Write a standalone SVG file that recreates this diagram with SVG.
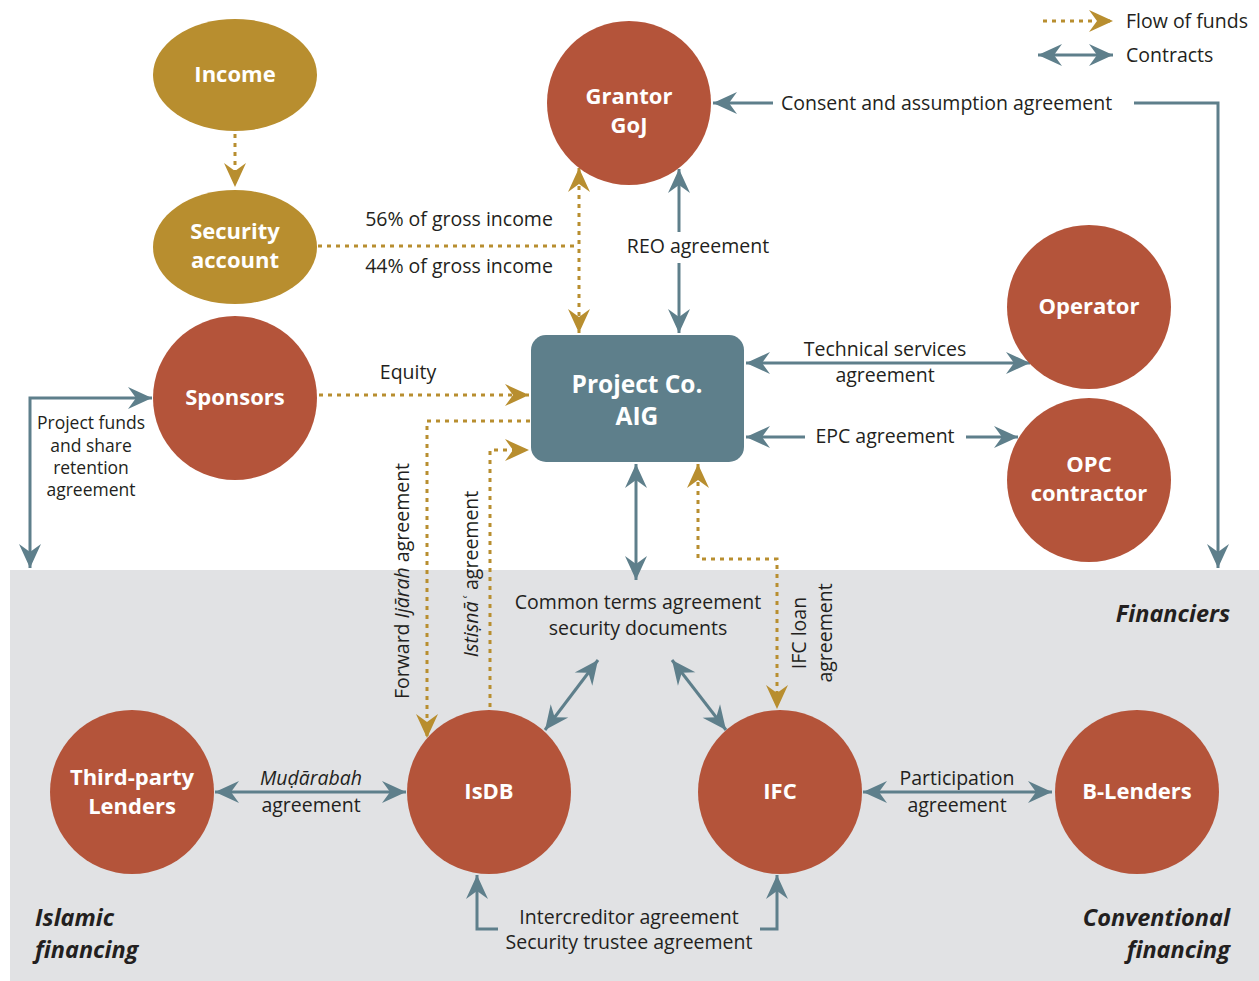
<svg xmlns="http://www.w3.org/2000/svg" width="1259" height="981" viewBox="0 0 1259 981">
<style>
  .lbl{font-family:"Open Sans","Liberation Sans",sans-serif;font-size:19.5px;fill:#231f20}
  .sm{font-size:17.5px}
  .nt{font-family:"Open Sans","Liberation Sans",sans-serif;font-size:22px;font-weight:bold;fill:#fff;text-anchor:middle}
  .hd{font-family:"Open Sans","Liberation Sans",sans-serif;font-size:23.5px;font-weight:bold;font-style:italic;fill:#231f20}
  .c{text-anchor:middle}
  .e{text-anchor:end}
  .red{fill:#b4543a}
  .gold{fill:#b88e2f}
  .blue{stroke:#5e7f8b;stroke-width:3;fill:none}
  .fund{stroke:#b88e2f;stroke-width:3;fill:none;stroke-dasharray:4 5}
  .ba{marker-end:url(#bh)}
  .bb{marker-start:url(#bh);marker-end:url(#bh)}
  .ga{marker-end:url(#gh)}
  .gb{marker-start:url(#gh);marker-end:url(#gh)}
</style>
<defs>
  <marker id="bh" markerUnits="userSpaceOnUse" viewBox="-25 -12 26 24" refX="0" refY="0" markerWidth="26" markerHeight="24" orient="auto-start-reverse">
    <path d="M0,0 L-24,-11 L-16,0 L-24,11 Z" fill="#5e7f8b"/>
  </marker>
  <marker id="gh" markerUnits="userSpaceOnUse" viewBox="-25 -12 26 24" refX="0" refY="0" markerWidth="26" markerHeight="24" orient="auto-start-reverse">
    <path d="M0,0 L-24,-11 L-16,0 L-24,11 Z" fill="#b88e2f"/>
  </marker>
</defs>
<rect x="0" y="0" width="1259" height="981" fill="#fff"/>
<rect id="financiers-panel" x="10" y="570" width="1249" height="411" fill="#e1e2e4"/>

<g id="connectors">
  <!-- legend -->
  <line class="fund ga" x1="1043" y1="21" x2="1113" y2="21"/>
  <line class="blue bb" x1="1038" y1="55" x2="1113" y2="55"/>
  <!-- income to security -->
  <line class="fund ga" x1="235" y1="134" x2="235" y2="187"/>
  <!-- security split -->
  <line class="fund" x1="318" y1="246" x2="579" y2="246"/>
  <line class="fund gb" x1="579" y1="168" x2="579" y2="333"/>
  <!-- REO -->
  <line class="blue ba" x1="679" y1="232" x2="679" y2="169"/>
  <line class="blue ba" x1="679" y1="263" x2="679" y2="333"/>
  <!-- consent -->
  <line class="blue ba" x1="773" y1="103" x2="713" y2="103"/>
  <polyline class="blue ba" points="1134,103 1218,103 1218,568"/>
  <!-- technical services -->
  <line class="blue bb" x1="746" y1="363" x2="1030" y2="363"/>
  <!-- EPC -->
  <line class="blue ba" x1="805" y1="437" x2="746" y2="437"/>
  <line class="blue ba" x1="966" y1="437" x2="1018" y2="437"/>
  <!-- equity -->
  <line class="fund ga" x1="319" y1="395" x2="529" y2="395"/>
  <!-- sponsors project funds -->
  <polyline class="blue bb" points="152,398 30,398 30,568"/>
  <!-- forward ijarah -->
  <polyline class="fund ga" points="530,421 427,421 427,738"/>
  <!-- istisna -->
  <polyline class="fund ga" points="490,707 490,450 529,450"/>
  <!-- project co to common terms -->
  <line class="blue bb" x1="636" y1="464" x2="636" y2="580"/>
  <!-- diagonals -->
  <line class="blue bb" x1="598" y1="660" x2="545" y2="730"/>
  <line class="blue bb" x1="672" y1="660" x2="726" y2="730"/>
  <!-- IFC loan -->
  <polyline class="fund gb" points="698,464 698,559 777,559 777,709"/>
  <!-- mudarabah -->
  <line class="blue bb" x1="215" y1="792" x2="406" y2="792"/>
  <!-- participation -->
  <line class="blue bb" x1="863" y1="792" x2="1052" y2="792"/>
  <!-- intercreditor -->
  <polyline class="blue ba" points="498,929 477,929 477,875"/>
  <polyline class="blue ba" points="760,929 777,929 777,875"/>
</g>

<g id="income"><ellipse cx="235" cy="75" rx="82" ry="56" class="gold"/><text class="nt" x="235" y="82">Income</text></g>
<g id="security-account"><ellipse cx="235" cy="247" rx="82" ry="57" class="gold"/><text class="nt" x="235" y="239">Security</text><text class="nt" x="235" y="268">account</text></g>
<g id="grantor"><circle cx="629" cy="103" r="82" class="red"/><text class="nt" x="629" y="104">Grantor</text><text class="nt" x="629" y="133">GoJ</text></g>
<g id="operator"><circle cx="1089" cy="307" r="82" class="red"/><text class="nt" x="1089" y="314">Operator</text></g>
<g id="opc"><circle cx="1089" cy="480" r="82" class="red"/><text class="nt" x="1089" y="472">OPC</text><text class="nt" x="1089" y="501">contractor</text></g>
<g id="sponsors"><circle cx="235" cy="398" r="82" class="red"/><text class="nt" x="235" y="405">Sponsors</text></g>
<g id="project-co"><rect x="531" y="335" width="213" height="127" rx="15" fill="#5e7f8b"/><text class="nt" x="637" y="393" style="font-size:24.5px">Project Co.</text><text class="nt" x="637" y="425" style="font-size:24.5px">AIG</text></g>
<g id="third-party"><circle cx="132" cy="792" r="82" class="red"/><text class="nt" x="132" y="785">Third-party</text><text class="nt" x="132" y="814">Lenders</text></g>
<g id="isdb"><circle cx="489" cy="792" r="82" class="red"/><text class="nt" x="489" y="799">IsDB</text></g>
<g id="ifc"><circle cx="780" cy="792" r="82" class="red"/><text class="nt" x="780" y="799">IFC</text></g>
<g id="b-lenders"><circle cx="1137" cy="792" r="82" class="red"/><text class="nt" x="1137" y="799">B-Lenders</text></g>

<g id="labels">
  <text class="lbl" x="1126" y="28">Flow of funds</text>
  <text class="lbl" x="1126" y="62">Contracts</text>
  <text class="lbl c" x="459" y="226">56% of gross income</text>
  <text class="lbl c" x="459" y="273">44% of gross income</text>
  <text class="lbl c" x="698" y="253">REO agreement</text>
  <text class="lbl" x="781" y="110">Consent and assumption agreement</text>
  <text class="lbl c" x="885" y="356">Technical services</text>
  <text class="lbl c" x="885" y="382">agreement</text>
  <text class="lbl c" x="885" y="443">EPC agreement</text>
  <text class="lbl c" x="408" y="379">Equity</text>
  <text class="lbl sm c" x="91" y="429">Project funds</text>
  <text class="lbl sm c" x="91" y="452">and share</text>
  <text class="lbl sm c" x="91" y="474">retention</text>
  <text class="lbl sm c" x="91" y="496">agreement</text>
  <text class="lbl c" transform="translate(409,581) rotate(-90)">Forward <tspan font-style="italic">Ijārah</tspan> agreement</text>
  <text class="lbl c" transform="translate(478,574) rotate(-90)"><tspan font-style="italic">Istiṣnāʿ</tspan> agreement</text>
  <text class="lbl c" transform="translate(806,633) rotate(-90)">IFC loan</text>
  <text class="lbl c" transform="translate(832,633) rotate(-90)">agreement</text>
  <text class="lbl c" x="638" y="609">Common terms agreement</text>
  <text class="lbl c" x="638" y="635">security documents</text>
  <text class="lbl c" x="311" y="785" font-style="italic">Muḍārabah</text>
  <text class="lbl c" x="311" y="812">agreement</text>
  <text class="lbl c" x="957" y="785">Participation</text>
  <text class="lbl c" x="957" y="812">agreement</text>
  <text class="lbl c" x="629" y="924">Intercreditor agreement</text>
  <text class="lbl c" x="629" y="949">Security trustee agreement</text>
  <text class="hd e" x="1230" y="622">Financiers</text>
  <text class="hd" x="35" y="926">Islamic</text>
  <text class="hd" x="35" y="958">financing</text>
  <text class="hd e" x="1230" y="926">Conventional</text>
  <text class="hd e" x="1230" y="958">financing</text>
</g>
</svg>
